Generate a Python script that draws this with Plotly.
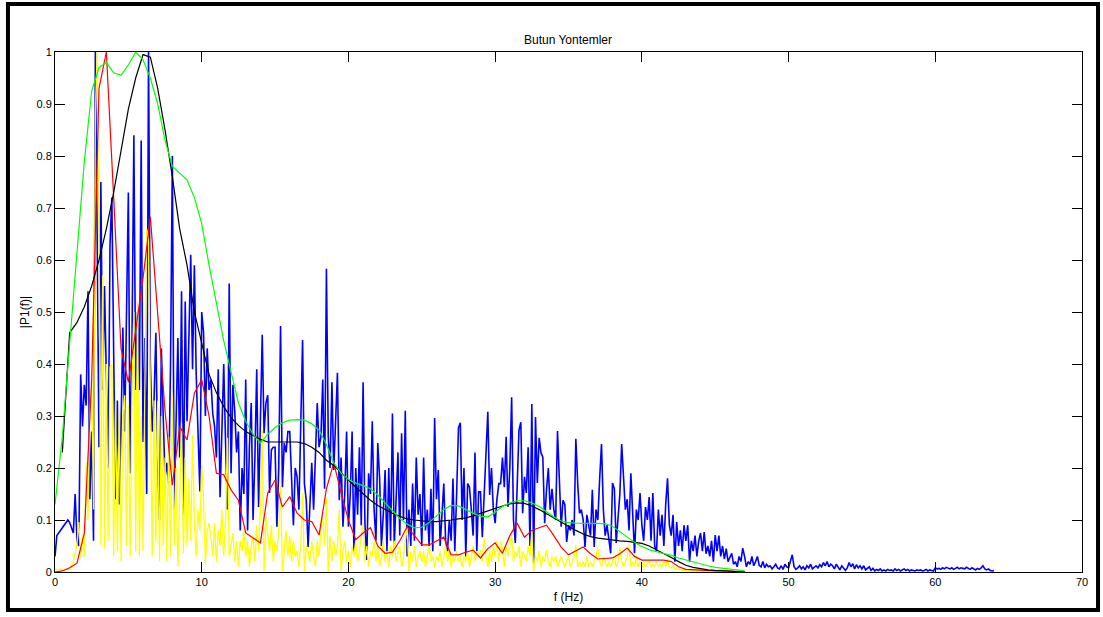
import plotly.graph_objects as go

# Spectrum magnitudes |P1(f)|, normalised; dense FFT traces at 0.125 Hz steps
F_STEP_FINE = 0.125
F_STEP_COARSE = 0.5

blue_vals = [
    0.03, 0.07, 0.075, 0.08, 0.085, 0.09, 0.095, 0.10,
    0.095, 0.085, 0.075, 0.15, 0.06, 0.05, 0.38, 0.28,
    0.36, 0.32, 0.54, 0.14, 0.27, 0.06, 1.00, 0.64,
    0.24, 0.75, 0.35, 0.55, 0.36, 0.20, 0.63, 0.72,
    0.42, 0.14, 0.33, 0.13, 0.28, 0.47, 0.27, 0.50,
    0.73, 0.19, 0.45, 0.84, 0.35, 0.50, 0.35, 0.83,
    0.25, 0.45, 0.15, 1.00, 0.40, 0.27, 0.33, 0.46,
    0.21, 0.10, 0.43, 0.30, 0.18, 0.21, 0.17, 0.40,
    0.80, 0.12, 0.30, 0.45, 0.22, 0.54, 0.11, 0.52,
    0.29, 0.45, 0.61, 0.39, 0.59, 0.38, 0.27, 0.155,
    0.50, 0.46, 0.30, 0.43, 0.35, 0.37, 0.305, 0.28,
    0.22, 0.39, 0.144, 0.30, 0.40, 0.25, 0.12, 0.555,
    0.19, 0.36, 0.31, 0.23, 0.27, 0.08, 0.20, 0.15,
    0.37, 0.08, 0.24, 0.325, 0.10, 0.22, 0.39, 0.125,
    0.30, 0.456, 0.267, 0.325, 0.34, 0.152, 0.235, 0.24,
    0.24, 0.087, 0.20, 0.473, 0.163, 0.248, 0.23, 0.27,
    0.27, 0.163, 0.09, 0.20, 0.183, 0.12, 0.30, 0.446,
    0.17, 0.138, 0.048, 0.15, 0.21, 0.12, 0.21, 0.325,
    0.24, 0.26, 0.37, 0.16, 0.583, 0.26, 0.20, 0.365,
    0.196, 0.30, 0.383, 0.138, 0.22, 0.087, 0.15, 0.27,
    0.087, 0.15, 0.27, 0.036, 0.20, 0.11, 0.24, 0.09,
    0.365, 0.094, 0.023, 0.19, 0.15, 0.29, 0.12, 0.06,
    0.248, 0.18, 0.05, 0.11, 0.196, 0.04, 0.20, 0.06,
    0.305, 0.05, 0.13, 0.23, 0.07, 0.267, 0.10, 0.31,
    0.03, 0.12, 0.05, 0.17, 0.06, 0.22, 0.11, 0.15,
    0.05, 0.22, 0.08, 0.12, 0.05, 0.16, 0.04, 0.296,
    0.14, 0.196, 0.05, 0.12, 0.17, 0.06, 0.04, 0.10,
    0.06, 0.18, 0.04, 0.15, 0.277, 0.287, 0.10, 0.20,
    0.03, 0.17, 0.163, 0.12, 0.07, 0.23, 0.04, 0.154,
    0.154, 0.067, 0.15, 0.22, 0.308, 0.148, 0.20, 0.12,
    0.094, 0.14, 0.17, 0.17, 0.22, 0.163, 0.26, 0.125,
    0.20, 0.336, 0.10, 0.056, 0.15, 0.273, 0.288, 0.113,
    0.183, 0.152, 0.24, 0.05, 0.323, 0.017, 0.298, 0.171,
    0.258, 0.229, 0.221, 0.094, 0.158, 0.20, 0.12, 0.16,
    0.12, 0.10, 0.271, 0.177, 0.087, 0.138, 0.13, 0.058,
    0.09, 0.08, 0.10, 0.07, 0.256, 0.171, 0.113, 0.12,
    0.10, 0.048, 0.11, 0.09, 0.07, 0.158, 0.048, 0.12,
    0.10, 0.18, 0.246, 0.12, 0.07, 0.09, 0.06, 0.036,
    0.171, 0.16, 0.056, 0.10, 0.15, 0.246, 0.19, 0.12,
    0.14, 0.08, 0.19, 0.10, 0.036, 0.12, 0.10, 0.152,
    0.09, 0.06, 0.125, 0.10, 0.144, 0.06, 0.152, 0.05,
    0.04, 0.12, 0.07, 0.11, 0.05, 0.13, 0.18, 0.09,
    0.07, 0.11, 0.02, 0.096, 0.05, 0.08, 0.04, 0.09,
    0.06, 0.09, 0.02, 0.06, 0.04, 0.07, 0.03, 0.06,
    0.075, 0.04, 0.077, 0.035, 0.05, 0.03, 0.06, 0.02,
    0.071, 0.04, 0.07, 0.03, 0.05, 0.025, 0.045, 0.02,
    0.03, 0.036, 0.015, 0.02, 0.01, 0.03, 0.02, 0.046,
    0.03, 0.01, 0.02, 0.015, 0.03, 0.012, 0.02, 0.03,
    0.013, 0.01, 0.02, 0.008, 0.015, 0.01, 0.012, 0.006,
    0.01, 0.015, 0.008, 0.006, 0.012, 0.005, 0.015, 0.01,
    0.008, 0.02, 0.033, 0.01, 0.005, 0.008, 0.012, 0.006,
    0.01, 0.004, 0.012, 0.008, 0.015, 0.006, 0.01, 0.012,
    0.008, 0.014, 0.01, 0.018, 0.012, 0.02, 0.01, 0.015,
    0.012, 0.006, 0.015, 0.01, 0.004, 0.012, 0.008, 0.003,
    0.008, 0.018, 0.01, 0.016, 0.006, 0.014, 0.008, 0.012,
    0.006, 0.012, 0.004, 0.008, 0.01, 0.003, 0.007, 0.002,
    0.005, 0.003, 0.006, 0.002, 0.004, 0.002, 0.005, 0.003,
    0.004, 0.002, 0.006, 0.003, 0.005, 0.002, 0.004, 0.006,
    0.003, 0.005, 0.002, 0.004, 0.003, 0.002, 0.004, 0.003,
    0.004, 0.002, 0.003, 0.005, 0.002, 0.004, 0.003, 0.002,
    0.008, 0.006, 0.007, 0.005, 0.008, 0.006, 0.009, 0.007,
    0.006, 0.008, 0.005, 0.007, 0.009, 0.006, 0.008, 0.007,
    0.006, 0.009, 0.007, 0.005, 0.008, 0.006, 0.004, 0.007,
    0.005, 0.008, 0.012, 0.006, 0.004, 0.006, 0.003, 0.002,
    0.003,
]

yellow_vals = [
    0.005, 0.004, 0.005, 0.006, 0.005, 0.004, 0.006, 0.005,
    0.006, 0.01, 0.02, 0.04, 0.055, 0.096, 0.027, 0.067,
    0.03, 0.21, 0.10, 0.30, 0.37, 0.12, 0.88, 1.00,
    0.615, 0.05, 0.57, 0.045, 0.40, 0.06, 0.394, 0.40,
    0.03, 0.33, 0.04, 0.31, 0.02, 0.30, 0.34, 0.05,
    0.32, 0.03, 0.36, 0.50, 0.04, 0.52, 0.03, 0.30,
    0.04, 0.35, 0.66, 0.64, 0.37, 0.03, 0.33, 0.06,
    0.33, 0.02, 0.30, 0.05, 0.22, 0.02, 0.26, 0.03,
    0.344, 0.05, 0.20, 0.01, 0.15, 0.288, 0.036, 0.22,
    0.05, 0.18, 0.06, 0.263, 0.10, 0.03, 0.12, 0.08,
    0.206, 0.14, 0.017, 0.08, 0.094, 0.07, 0.03, 0.094,
    0.02, 0.08, 0.05, 0.12, 0.03, 0.10, 0.258, 0.03,
    0.05, 0.075, 0.02, 0.06, 0.01, 0.06, 0.04, 0.08,
    0.03, 0.06, 0.01, 0.05, 0.07, 0.02, 0.09, 0.04,
    0.12, 0.273, 0.00, 0.106, 0.07, 0.04, 0.09, 0.02,
    0.06, 0.04, 0.08, 0.167, 0.00, 0.05, 0.08, 0.03,
    0.07, 0.02, 0.06, 0.03, 0.04, 0.01, 0.05, 0.152,
    0.00, 0.05, 0.04, 0.02, 0.06, 0.03, 0.01, 0.06,
    0.03, 0.08, 0.106, 0.05, 0.144, 0.00, 0.07, 0.02,
    0.06, 0.03, 0.05, 0.12, 0.00, 0.04, 0.06, 0.02,
    0.04, 0.01, 0.05, 0.03, 0.06, 0.02, 0.04, 0.07,
    0.094, 0.02, 0.05, 0.01, 0.04, 0.03, 0.06, 0.02,
    0.05, 0.01, 0.03, 0.06, 0.02, 0.04, 0.01, 0.05,
    0.03, 0.06, 0.02, 0.04, 0.05, 0.01, 0.03, 0.06,
    0.087, 0.00, 0.04, 0.02, 0.05, 0.01, 0.03, 0.04,
    0.02, 0.04, 0.01, 0.03, 0.05, 0.02, 0.03, 0.01,
    0.03, 0.02, 0.04, 0.01, 0.03, 0.05, 0.02, 0.04,
    0.01, 0.03, 0.02, 0.04, 0.02, 0.03, 0.01, 0.03,
    0.02, 0.04, 0.01, 0.03, 0.05, 0.02, 0.04, 0.03,
    0.042, 0.02, 0.065, 0.03, 0.01, 0.04, 0.02, 0.05,
    0.03, 0.06, 0.02, 0.06, 0.04, 0.01, 0.05, 0.03,
    0.05, 0.071, 0.02, 0.04, 0.03, 0.05, 0.01, 0.04,
    0.03, 0.02, 0.05, 0.03, 0.077, 0.00, 0.03, 0.02,
    0.04, 0.01, 0.03, 0.02, 0.042, 0.02, 0.01, 0.03,
    0.02, 0.03, 0.01, 0.02, 0.03, 0.02, 0.01, 0.02,
    0.03, 0.01, 0.02, 0.03, 0.052, 0.01, 0.02, 0.01,
    0.02, 0.01, 0.03, 0.01, 0.02, 0.01, 0.02, 0.03,
    0.046, 0.02, 0.01, 0.03, 0.02, 0.01, 0.02, 0.01,
    0.02, 0.03, 0.01, 0.02, 0.048, 0.02, 0.01, 0.02,
    0.03, 0.052, 0.01, 0.02, 0.01, 0.03, 0.01, 0.02,
    0.01, 0.02, 0.01, 0.015, 0.02, 0.01, 0.015, 0.01,
    0.02, 0.01, 0.015, 0.01, 0.02, 0.01, 0.023, 0.01,
    0.008, 0.012, 0.005, 0.008, 0.004, 0.006, 0.003, 0.004,
    0.003, 0.004, 0.002, 0.003, 0.002, 0.003, 0.002, 0.003,
    0.002, 0.003, 0.002, 0.002, 0.003, 0.002, 0.002, 0.002,
    0.002, 0.002, 0.001, 0.002, 0.002, 0.001, 0.002, 0.001,
    0.001, 0.001, 0.001, 0.001, 0.001, 0.001, 0.001, 0.001,
]

red_vals = [
    0.0, 0.002, 0.008, 0.017, 0.075, 0.37, 0.93, 1.0, 0.72, 0.43,
    0.365, 0.47, 0.565, 0.683, 0.50, 0.31, 0.167, 0.28, 0.254, 0.344,
    0.37, 0.30, 0.19, 0.187, 0.158, 0.138, 0.075, 0.065, 0.056, 0.152,
    0.177, 0.125, 0.145, 0.113, 0.10, 0.097, 0.071, 0.16, 0.21, 0.152,
    0.10, 0.062, 0.075, 0.085, 0.05, 0.036, 0.038, 0.06, 0.087, 0.07,
    0.052, 0.052, 0.06, 0.067, 0.033, 0.033, 0.038, 0.042, 0.027, 0.045,
    0.056, 0.036, 0.07, 0.094, 0.067, 0.08, 0.085, 0.09, 0.07, 0.048,
    0.033, 0.04, 0.048, 0.035, 0.025, 0.026, 0.027, 0.035, 0.046, 0.03,
    0.023, 0.023, 0.023, 0.023, 0.02, 0.01, 0.005, 0.004, 0.003, 0.002,
    0.002, 0.002, 0.001, 0.001, 0.001,
]

# smoothed estimate, first sample at 0.5 Hz
black_vals = [
    0.23, 0.46, 0.48, 0.51, 0.55, 0.60, 0.66, 0.73, 0.81, 0.89,
    0.95, 0.995, 0.99, 0.93, 0.85, 0.76, 0.66, 0.59, 0.50, 0.44,
    0.38, 0.345, 0.318, 0.297, 0.282, 0.27, 0.262, 0.255, 0.25, 0.25,
    0.25, 0.25, 0.25, 0.247, 0.24, 0.23, 0.215, 0.205, 0.19, 0.177,
    0.163, 0.15, 0.138, 0.128, 0.12, 0.113, 0.107, 0.102, 0.10, 0.098,
    0.097, 0.097, 0.098, 0.10, 0.102, 0.104, 0.108, 0.113, 0.118, 0.122,
    0.127, 0.131, 0.133, 0.132, 0.127, 0.12, 0.112, 0.104, 0.095, 0.087,
    0.08, 0.073, 0.068, 0.065, 0.063, 0.061, 0.06, 0.059, 0.057, 0.055,
    0.05, 0.043, 0.036, 0.028, 0.02, 0.013, 0.009, 0.006, 0.004, 0.003,
    0.002, 0.002, 0.001, 0.001,
]

green_vals = [
    0.13, 0.26, 0.44, 0.62, 0.79, 0.925, 0.97, 0.98, 0.96, 0.955,
    0.975, 1.0, 0.985, 0.95, 0.90, 0.83, 0.78, 0.767, 0.754, 0.72,
    0.67, 0.59, 0.515, 0.445, 0.385, 0.325, 0.29, 0.265, 0.248, 0.265,
    0.278, 0.287, 0.292, 0.293, 0.292, 0.285, 0.273, 0.245, 0.21, 0.19,
    0.178, 0.171, 0.166, 0.16, 0.148, 0.133, 0.118, 0.103, 0.092, 0.085,
    0.086, 0.095, 0.108, 0.12, 0.128, 0.127, 0.12, 0.113, 0.107, 0.106,
    0.115, 0.126, 0.133, 0.137, 0.137, 0.133, 0.126, 0.116, 0.106, 0.098,
    0.095, 0.094, 0.094, 0.094, 0.094, 0.093, 0.088, 0.078, 0.068, 0.057,
    0.049, 0.043, 0.039, 0.036, 0.032, 0.027, 0.023, 0.019, 0.015, 0.012,
    0.009, 0.007, 0.005, 0.003, 0.002,
]

f_blue = [i * F_STEP_FINE for i in range(len(blue_vals))]
f_yellow = [i * F_STEP_FINE for i in range(len(yellow_vals))]
f_red = [i * F_STEP_COARSE for i in range(len(red_vals))]
f_black = [0.5 + i * F_STEP_COARSE for i in range(len(black_vals))]
f_green = [i * F_STEP_COARSE for i in range(len(green_vals))]

FONT = "Liberation Sans, Arial, sans-serif"

fig = go.Figure()
series = [
    (f_blue, blue_vals, "#0000FF", 1.6),
    (f_yellow, yellow_vals, "#FFFF00", 1.3),
    (f_red, red_vals, "#FF0000", 1.2),
    (f_black, black_vals, "#000000", 1.2),
    (f_green, green_vals, "#00FF00", 1.2),
]
for fx, fy, col, w in series:
    fig.add_trace(go.Scatter(x=fx, y=fy, mode="lines",
                             line=dict(color=col, width=w),
                             showlegend=False, hoverinfo="skip"))

axis_common = dict(
    showline=True, linecolor="black", linewidth=1, mirror="ticks",
    ticks="inside", ticklen=10, tickcolor="black", tickwidth=1,
    showgrid=False, zeroline=False,
    tickfont=dict(family=FONT, size=11, color="black"),
)

fig.update_xaxes(range=[0, 70], dtick=10, tick0=0,
                 title=dict(text="f (Hz)", font=dict(family=FONT, size=12, color="black"),
                            standoff=5),
                 **axis_common)
fig.update_yaxes(range=[0, 1], dtick=0.1, tick0=0,
                 title=dict(text="|P1(f)|", font=dict(family=FONT, size=12, color="black"),
                            standoff=4),
                 **axis_common)

fig.update_layout(
    width=1103, height=617,
    margin=dict(l=55, r=21, t=52, b=45),
    paper_bgcolor="white", plot_bgcolor="white",
    title=dict(text="Butun Yontemler", x=568 / 1103, xanchor="center",
               y=1 - 40 / 617, yanchor="middle",
               font=dict(family=FONT, size=12, color="black")),
    shapes=[
        # figure window border
        dict(type="rect", xref="paper", yref="paper",
             x0=-0.0458, x1=1.0156, y0=-0.0731, y1=1.0923,
             line=dict(color="black", width=4), fillcolor="rgba(0,0,0,0)",
             layer="above"),
    ],
)

fig.write_html("out.html")
